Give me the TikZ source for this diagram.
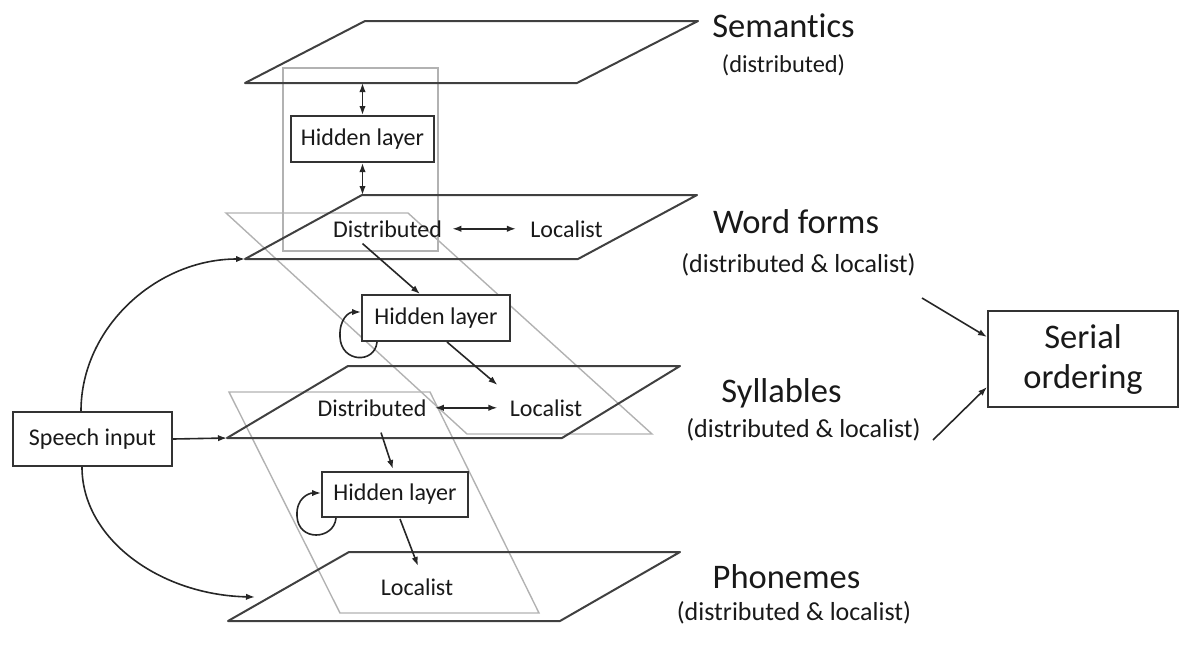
\documentclass[tikz,border=0pt]{standalone}
\usepackage{fontspec}
\setmainfont{Carlito}[Ligatures=NoCommon]
\usetikzlibrary{arrows.meta,calc}
\begin{document}
\begin{tikzpicture}[x=0.5pt,y=-0.5pt,
  every node/.style={text=black!90},
  layer/.style={draw=black!75,line width=1pt,line join=round},
  guide/.style={draw=black!30,line width=0.7pt},
  unit/.style={draw=black!80,line width=1pt,fill=white,inner sep=0pt,font=\fontsize{12}{14}\selectfont},
  lbl/.style={anchor=base,inner sep=0pt,font=\fontsize{12}{14}\selectfont},
  title/.style={anchor=base,inner sep=0pt,font=\fontsize{17.25}{20}\selectfont},
  subtitle/.style={anchor=base,inner sep=0pt,font=\fontsize{13}{15}\selectfont},
  link/.style={draw=black!85,line width=0.8pt,-{Latex[length=4.5pt,width=3.2pt]}},
  twoway/.style={link,{Latex[length=4.5pt,width=3.2pt]}-{Latex[length=4.5pt,width=3.2pt]}},
]
\useasboundingbox (0,0) rectangle (1184,644);

% light guide frames linking the levels
\draw[guide] (283,68) rectangle (438,251);
\draw[guide] (226,213) -- (408,213) -- (652,434) -- (467,434) -- cycle;
\draw[guide] (229,392) -- (430,392) -- (539,613) -- (340,613) -- cycle;

% representation layers
\draw[layer] (245,83) coordinate (sem-bl) -- (577,83) -- (698,21) -- (365,21) -- cycle;
\draw[layer] (245,259) coordinate (wf-bl) -- (578,259) -- (697,195) -- (362,195) coordinate (wf-tl) -- cycle;
\draw[layer] (227,438) coordinate (sy-bl) -- (562,438) -- (680,366) -- (348,366) -- cycle;
\draw[layer] (228,621) -- (560,621) -- (680,552) -- (349,552) -- cycle;
\coordinate (ph-in) at (255,597);

% processing units
\node[unit,minimum width=71.5pt,minimum height=23pt] (hl1) at (362.5,139) {Hidden layer};
\node[unit,minimum width=74pt,minimum height=23pt] (hl2) at (436,318) {Hidden layer};
\node[unit,minimum width=73pt,minimum height=22.5pt] (hl3) at (395,494.5) {Hidden layer};
\node[unit,minimum width=79.5pt,minimum height=27pt] (speech) at (92.5,439) {Speech input};
\node[unit,minimum width=95pt,minimum height=48pt,align=center,font=\fontsize{17.25}{20}\selectfont] (serial) at (1083,359) {Serial\\ordering};

% labels inside the layers
\node[lbl] (wfdist) at (387.5,237) {Distributed};
\node[lbl] (wfloc) at (566.5,237) {Localist};
\node[lbl] (sydist) at (372,416) {Distributed};
\node[lbl] (syloc) at (546,416) {Localist};
\node[lbl] (phloc) at (417,595) {Localist};

% level names
\node[title] (semt) at (783.5,37) {Semantics};
\node[subtitle,font=\fontsize{12.2}{14}\selectfont] (sems) at (783.5,72) {(distributed)};
\node[title] (wft) at (796,233) {Word forms};
\node[subtitle] (wfs) at (798.5,272) {(distributed \& localist)};
\node[title] (syt) at (781.5,402) {Syllables};
\node[subtitle] (sys) at (803.5,437) {(distributed \& localist)};
\node[title] (pht) at (786.5,588) {Phonemes};
\node[subtitle] (phs) at (794,620) {(distributed \& localist)};

% connections
\draw[twoway] (hl1.north |- sem-bl) -- (hl1.north);
\draw[twoway] (hl1.south) -- (hl1.south |- wf-tl);
\draw[twoway] ($(wfdist.east)+(10,0)$) -- ($(wfloc.west)+(-14,0)$);
\draw[link] ($(wfdist.south)+(-25,6)$) -- ($(hl2.north)+(-16,0)$);
\draw[link] ($(hl2.south)+(11,0)$) -- ($(syloc.north west)+(-12,-14)$);
\draw[twoway] ($(sydist.east)+(8,0)$) -- ($(syloc.west)+(-12,0)$);
\draw[link] ($(sydist.south)+(9,16)$) -- ($(hl3.north)+(-2,-2)$);
\draw[link] ($(hl3.south)+(5,1)$) -- ($(phloc.north)+(1,-12)$);

% recurrent loops on the hidden layers
\draw[link] ($(hl2.south west)+(16,0)$) .. controls +(-2,22) and +(1,26) .. ++(-37,-5)
  .. controls +(-1,-18) and +(-12,0) .. ($(hl2.west)+(0,-6)$);
\draw[link] ($(hl3.south west)+(15,0)$) .. controls +(-2,22) and +(1,26) .. ++(-39,-2)
  .. controls +(-1,-18) and +(-12,0) .. ($(hl3.west)+(0,-1.5)$);

% speech input routes
\draw[link] ($(speech.north)+(-11.5,0)$) .. controls +(0,-83) and +(-89,0) .. (wf-bl);
\draw[link] ($(speech.south)+(-10.5,0)$) .. controls +(0,72) and +(-95,-2) .. (ph-in);
\draw[link] (speech.east) -- (sy-bl);

% inputs to serial ordering
\coordinate (wf-out) at (922,298);
\coordinate (sy-out) at (933,440);
\draw[link] (wf-out) -- ($(serial.west)+(0,-22)$);
\draw[link] (sy-out) -- ($(serial.west)+(0,28)$);
\end{tikzpicture}
\end{document}
